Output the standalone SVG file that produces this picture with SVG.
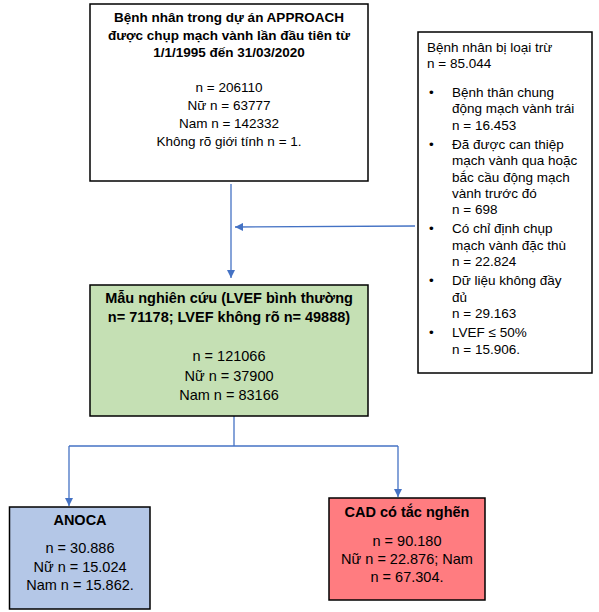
<svg xmlns="http://www.w3.org/2000/svg" width="599" height="612" viewBox="0 0 599 612">
<style>
text{font-family:"Liberation Sans",Arial,sans-serif;fill:#000}
.box{stroke:#000;stroke-width:1.5}
.c{text-anchor:middle}
.b{font-weight:bold}
.s1{font-size:13.5px}
.s2{font-size:13.5px}
.s3{font-size:14.5px}
.conn{fill:none;stroke:#4472C4;stroke-width:1.3}
</style>
<defs>
<marker id="ah" viewBox="0 0 10 10" refX="10" refY="5" markerWidth="8" markerHeight="8" markerUnits="userSpaceOnUse" orient="auto">
<path d="M0,0 L10,5 L0,10 z" fill="#4472C4"/>
</marker>
</defs>
<rect width="599" height="612" fill="#fff"/>
<g id="connectors">
<path class="conn" d="M231,184 V278" marker-end="url(#ah)"/>
<path class="conn" d="M415,226 L235,227" marker-end="url(#ah)"/>
<path class="conn" d="M234,416 V446"/>
<path class="conn" d="M69,446 H398"/>
<path class="conn" d="M69,446 V506" marker-end="url(#ah)"/>
<path class="conn" d="M398,446 V497" marker-end="url(#ah)"/>
</g>
<g id="node-approach">
<rect class="box" x="90" y="4" width="278" height="177" fill="#fff"/>
<text class="c b s1" x="229" y="22">Bệnh nhân trong dự án APPROACH</text>
<text class="c b s1" x="229" y="40">được chụp mạch vành lần đầu tiên từ</text>
<text class="c b s1" x="229" y="57">1/1/1995 đến 31/03/2020</text>
<text class="c s1" x="229" y="92">n = 206110</text>
<text class="c s1" x="229" y="110">Nữ n = 63777</text>
<text class="c s1" x="229" y="128">Nam n = 142332</text>
<text class="c s1" x="229" y="146">Không rõ giới tính n = 1.</text>
</g>
<g id="node-excluded">
<rect class="box" x="418" y="32" width="174" height="341" fill="#fff"/>
<text class="s2" x="427" y="52">Bệnh nhân bị loại trừ</text>
<text class="s2" x="427" y="68">n = 85.044</text>
<g class="s2">
<text x="429" y="97">•</text>
<text x="452" y="97">Bệnh thân chung</text>
<text x="452" y="113.3">động mạch vành trái</text>
<text x="452" y="129.6">n = 16.453</text>
<text x="429" y="148.9">•</text>
<text x="452" y="148.9">Đã được can thiệp</text>
<text x="452" y="165.2">mạch vành qua hoặc</text>
<text x="452" y="181.5">bắc cầu động mạch</text>
<text x="452" y="197.8">vành trước đó</text>
<text x="452" y="214.1">n = 698</text>
<text x="429" y="233.4">•</text>
<text x="452" y="233.4">Có chỉ định chụp</text>
<text x="452" y="249.7">mạch vành đặc thù</text>
<text x="452" y="266">n = 22.824</text>
<text x="429" y="285.3">•</text>
<text x="452" y="285.3">Dữ liệu không đầy</text>
<text x="452" y="301.6">đủ</text>
<text x="452" y="317.9">n = 29.163</text>
<text x="429" y="337.2">•</text>
<text x="452" y="337.2">LVEF ≤ 50%</text>
<text x="452" y="353.5">n = 15.906.</text>
</g>
</g>
<g id="node-study">
<rect class="box" x="90" y="285" width="278" height="131" fill="#C5E0B4"/>
<text class="c b s3" x="229" y="303">Mẫu nghiên cứu (LVEF bình thường</text>
<text class="c b s3" x="229" y="322">n= 71178; LVEF không rõ n= 49888)</text>
<text class="c s3" x="229" y="361">n = 121066</text>
<text class="c s3" x="229" y="381">Nữ n = 37900</text>
<text class="c s3" x="229" y="400">Nam n = 83166</text>
</g>
<g id="node-anoca">
<rect class="box" x="9.5" y="507" width="140.5" height="102" fill="#B4C7E7"/>
<text class="c b s3" x="80" y="525">ANOCA</text>
<text class="c s3" x="80" y="553">n = 30.886</text>
<text class="c s3" x="80" y="572">Nữ n = 15.024</text>
<text class="c s3" x="80" y="590">Nam n = 15.862.</text>
</g>
<g id="node-cad">
<rect class="box" x="329" y="498" width="156" height="102" fill="#FF7C80"/>
<text class="c b s3" x="407" y="517">CAD có tắc nghẽn</text>
<text class="c s3" x="407" y="546">n = 90.180</text>
<text class="c s3" x="407" y="564">Nữ n = 22.876; Nam</text>
<text class="c s3" x="407" y="582">n = 67.304.</text>
</g>
</svg>
